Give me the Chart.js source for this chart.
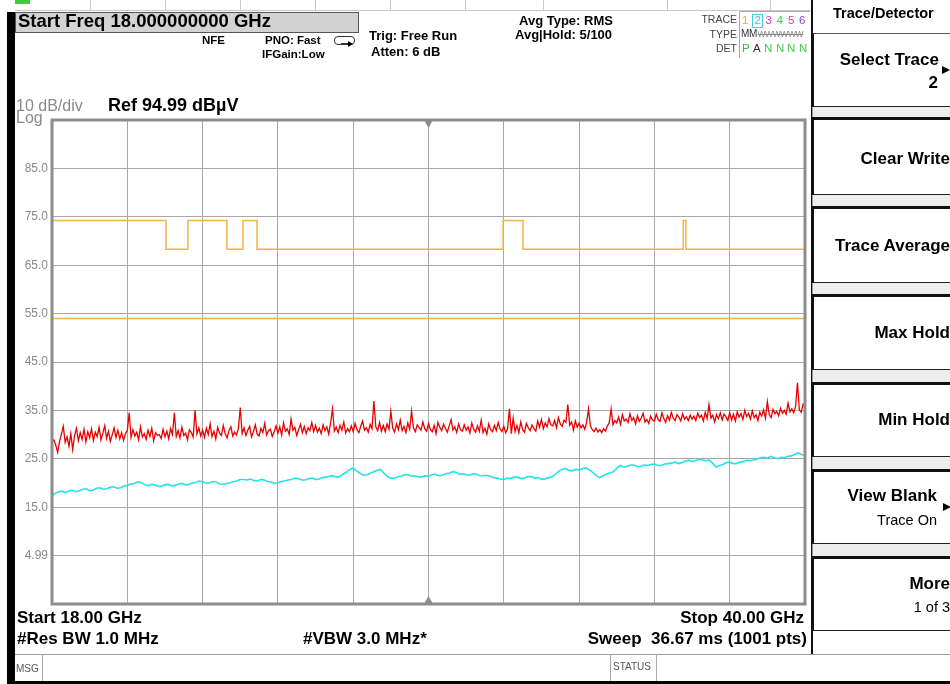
<!DOCTYPE html>
<html>
<head>
<meta charset="utf-8">
<script src="https://cdn.jsdelivr.net/npm/chart.js@4.4.1/dist/chart.umd.min.js"></script>
<style>
  html, body { margin:0; padding:0; width:950px; height:684px; overflow:hidden; background:#fff; }
  .t { position:absolute; white-space:nowrap; font-family:"Liberation Sans", Arial, sans-serif; line-height:1; color:#000; }
  .b { font-weight:bold; }
  .r { text-align:right; }
  .box { position:absolute; box-sizing:border-box; }
  .btn { position:absolute; left:812px; width:138px; box-sizing:border-box; background:#fff;
         border-top:3px solid #111; border-bottom:1.5px solid #222; border-left:2px solid #111; }
  .gap { position:absolute; left:812px; width:138px; box-sizing:border-box; background:#ededed;
         border-left:1px solid #999; border-top:1px solid #bbb; }
  .tri { position:absolute; width:0; height:0; border-left:8px solid #000; border-top:4.5px solid transparent; border-bottom:4.5px solid transparent; }
</style>
</head>
<body>
<canvas id="c" width="950" height="684" style="position:absolute;left:0;top:0;"></canvas>

<!-- frame decorations -->
<div class="box" style="left:15px;top:0;width:15px;height:4px;background:#3ccf3c;"></div>
<div class="box" style="left:15px;top:10px;width:796px;height:1px;background:#c8c8c8;"></div>
<div class="box" style="left:90px;top:0;width:1px;height:10px;background:#c8c8c8;"></div>
<div class="box" style="left:165px;top:0;width:1px;height:10px;background:#c8c8c8;"></div>
<div class="box" style="left:240px;top:0;width:1px;height:10px;background:#c8c8c8;"></div>
<div class="box" style="left:315px;top:0;width:1px;height:10px;background:#c8c8c8;"></div>
<div class="box" style="left:390px;top:0;width:1px;height:10px;background:#c8c8c8;"></div>
<div class="box" style="left:465px;top:0;width:1px;height:10px;background:#c8c8c8;"></div>
<div class="box" style="left:543px;top:0;width:1px;height:10px;background:#c8c8c8;"></div>
<div class="box" style="left:667px;top:0;width:1px;height:10px;background:#c8c8c8;"></div>
<div class="box" style="left:770px;top:0;width:1px;height:10px;background:#c8c8c8;"></div>
<div class="box" style="left:7px;top:12px;width:8px;height:672px;background:#000;"></div>
<div class="box" style="left:7px;top:681px;width:943px;height:3px;background:#000;"></div>
<div class="box" style="left:811px;top:0;width:2px;height:654px;background:#111;"></div>

<!-- header -->
<div class="box" style="left:15px;top:12px;width:344px;height:21px;background:#d3d3d3;border:1px solid #555;"></div>
<div class="t b" style="left:18px;top:11.5px;font-size:18.5px;">Start Freq 18.000000000 GHz</div>
<div class="t b" style="left:202px;top:35.4px;font-size:11.5px;">NFE</div>
<div class="t b" style="left:265px;top:35.4px;font-size:11.5px;">PNO: Fast</div>
<div class="t b" style="left:262px;top:48.6px;font-size:11.5px;">IFGain:Low</div>
<div class="box" style="left:334px;top:36px;width:21px;height:9px;border:1.5px solid #333;border-radius:4px;"></div>
<div class="box" style="left:341px;top:43px;width:8px;height:1.5px;background:#333;"></div>
<div class="tri" style="left:348px;top:40.5px;border-left-width:5px;border-top-width:3px;border-bottom-width:3px;"></div>
<div class="t b" style="left:369px;top:28.6px;font-size:13px;">Trig: Free Run</div>
<div class="t b" style="left:371px;top:44.6px;font-size:13px;">Atten: 6 dB</div>
<div class="t b" style="left:519px;top:13.6px;font-size:13px;">Avg Type: RMS</div>
<div class="t b" style="left:515px;top:28.1px;font-size:13px;">Avg|Hold: 5/100</div>

<!-- trace table -->
<div class="box" style="left:739px;top:11px;width:71px;height:1px;background:#aaa;"></div>
<div class="box" style="left:739px;top:11px;width:1px;height:47px;background:#aaa;"></div>
<div class="t r" style="right:213px;top:14.4px;font-size:10.5px;color:#444;">TRACE</div>
<div class="t r" style="right:213px;top:29.2px;font-size:10.5px;color:#444;">TYPE</div>
<div class="t r" style="right:213px;top:42.6px;font-size:10.5px;color:#444;">DET</div>
<div class="box" style="left:752px;top:14px;width:11px;height:14px;border:1px solid #40d0e0;"></div>
<div class="t" style="left:742px;top:15.1px;font-size:11.5px;color:#f0a830;">1</div>
<div class="t" style="left:754.5px;top:15.1px;font-size:11.5px;color:#30c8e0;">2</div>
<div class="t" style="left:765.5px;top:15.1px;font-size:11.5px;color:#e030d0;">3</div>
<div class="t" style="left:776.5px;top:15.1px;font-size:11.5px;color:#40cc40;">4</div>
<div class="t" style="left:788px;top:15.1px;font-size:11.5px;color:#e04090;">5</div>
<div class="t" style="left:799px;top:15.1px;font-size:11.5px;color:#9040d0;">6</div>
<div class="t" style="left:741px;top:29.2px;font-size:10px;color:#333;">M</div>
<div class="t" style="left:749px;top:29.2px;font-size:10px;color:#333;">M</div>
<div class="t" style="left:757.5px;top:30px;font-size:8.5px;color:#888;letter-spacing:-0.4px;text-decoration:line-through;">WWWWWW</div>
<div class="t" style="left:742px;top:42.8px;font-size:11.5px;color:#30c030;">P</div>
<div class="t" style="left:753px;top:42.8px;font-size:11.5px;color:#333;">A</div>
<div class="t" style="left:764px;top:42.8px;font-size:11.5px;color:#40cc40;">N</div>
<div class="t" style="left:776px;top:42.8px;font-size:11.5px;color:#40cc40;">N</div>
<div class="t" style="left:787px;top:42.8px;font-size:11.5px;color:#40cc40;">N</div>
<div class="t" style="left:799px;top:42.8px;font-size:11.5px;color:#40cc40;">N</div>

<!-- scale info -->
<div class="t" style="left:16px;top:97.7px;font-size:16px;color:#8a8a8a;">10 dB/div</div>
<div class="t" style="left:16px;top:109.7px;font-size:16px;color:#8a8a8a;">Log</div>
<div class="t b" style="left:108px;top:96.2px;font-size:18px;">Ref 94.99 dBµV</div>

<!-- bottom annotations -->
<div class="t b" style="left:17px;top:609.2px;font-size:17px;">Start 18.00 GHz</div>
<div class="t b" style="left:17px;top:629.5px;font-size:17px;">#Res BW 1.0 MHz</div>
<div class="t b" style="left:303px;top:629.5px;font-size:17px;">#VBW 3.0 MHz*</div>
<div class="t b r" style="right:146px;top:609.2px;font-size:17px;">Stop 40.00 GHz</div>
<div class="t b r" style="right:143px;top:629.5px;font-size:17px;">Sweep&nbsp; 36.67 ms (1001 pts)</div>
<div class="box" style="left:15px;top:654px;width:935px;height:1px;background:#999;"></div>
<div class="box" style="left:42px;top:654px;width:1px;height:27px;background:#aaa;"></div>
<div class="box" style="left:610px;top:654px;width:1px;height:27px;background:#aaa;"></div>
<div class="box" style="left:656px;top:654px;width:1px;height:27px;background:#aaa;"></div>
<div class="t" style="left:16px;top:664px;font-size:10px;color:#555;">MSG</div>
<div class="t" style="left:613px;top:662px;font-size:10px;color:#555;">STATUS</div>

<!-- softkeys -->
<div class="t b" style="left:833px;top:6.4px;font-size:14.5px;">Trace/Detector</div>
<div class="gap" style="top:106px;height:12px;"></div>
<div class="gap" style="top:194px;height:13px;"></div>
<div class="gap" style="top:282px;height:14px;"></div>
<div class="gap" style="top:369px;height:14px;"></div>
<div class="gap" style="top:456px;height:14px;"></div>
<div class="gap" style="top:543px;height:14px;"></div>
<div class="btn" style="top:33px;height:74px;border-top:1px solid #555;"></div>
<div class="btn" style="top:117px;height:78px;"></div>
<div class="btn" style="top:205.5px;height:77.5px;"></div>
<div class="btn" style="top:294px;height:76px;"></div>
<div class="btn" style="top:381.5px;height:75px;"></div>
<div class="btn" style="top:469px;height:74.5px;"></div>
<div class="btn" style="top:556px;height:74.5px;"></div>
<div class="t b r" style="right:11px;top:50.5px;font-size:17px;">Select Trace</div>
<div class="t b r" style="right:12px;top:73.7px;font-size:17px;">2</div>
<div class="tri" style="left:942px;top:66px;"></div>
<div class="t b r" style="right:0;top:150.4px;font-size:17px;">Clear Write</div>
<div class="t b r" style="right:0;top:236.7px;font-size:17px;">Trace Average</div>
<div class="t b r" style="right:0;top:324.2px;font-size:17px;">Max Hold</div>
<div class="t b r" style="right:0;top:411.2px;font-size:17px;">Min Hold</div>
<div class="t b r" style="right:13px;top:486.7px;font-size:17px;">View Blank</div>
<div class="tri" style="left:943px;top:503px;"></div>
<div class="t r" style="right:13px;top:512.9px;font-size:14.5px;">Trace On</div>
<div class="t b r" style="right:0;top:574.7px;font-size:17px;">More</div>
<div class="t r" style="right:0;top:599.6px;font-size:14.5px;">1 of 3</div>

<script>
// ---------------- data ----------------
const startFreq = 18.0;   // GHz
const stopFreq = 40.0;    // GHz
const centerFreq = 29.0;  // GHz

// vertical grid positions (GHz)
const xGrid = [18, 20.2, 22.4, 24.6, 26.8, 29, 31.2, 33.4, 35.6, 37.8, 40];

// horizontal grid (dBuV) and their labels
const yGrid = [94.99, 84.99, 74.99, 64.99, 54.99, 44.99, 34.99, 24.99, 14.99, 4.99, -5.01];
const yLabels = ['', '85.0', '75.0', '65.0', '55.0', '45.0', '35.0', '25.0', '15.0', '4.99', ''];

// upper stepped line: each level holds from its frequency to the next one
const stepFreqs  = [18.0, 21.33, 21.97, 23.11, 23.58, 23.99, 31.18, 31.76, 36.44, 36.52, 40.0];
const stepLevels = [74.2, 68.3, 74.2, 68.3, 74.2, 68.3, 74.2, 68.3, 74.2, 68.3, 68.3];

// lower flat line
const flatFreqs  = [18.0, 40.0];
const flatLevels = [54.0, 54.0];

// red trace (peak), evenly spread over the sweep
const redTrace = [
  28.3, 28.9, 27.8, 26.3, 28.6, 30.1, 31.7, 28.4, 29.5, 27.6, 30.2, 26.9, 29.8, 31.3, 28.7, 30.4, 29.0, 31.1, 28.5, 30.6,
  29.3, 31.2, 28.8, 30.5, 29.6, 31.5, 28.9, 30.3, 31.8, 29.2, 30.7, 28.6, 30.0, 31.4, 29.4, 30.9, 29.1, 30.4, 28.8, 30.2,
  30.8, 34.5, 29.4, 31.0, 29.7, 30.5, 28.9, 31.6, 29.5, 30.2, 29.0, 30.9, 29.6, 31.3, 28.7, 30.4, 29.8, 30.0, 29.2, 31.1,
  29.5, 30.7, 29.1, 31.2, 30.0, 34.5, 29.6, 30.8, 29.3, 31.5, 29.8, 30.3, 28.9, 31.0, 30.4, 29.5, 35.0, 30.1, 31.4, 29.7,
  30.9, 29.4, 31.3, 30.0, 32.2, 29.6, 30.7, 29.1, 31.5, 30.3, 29.8, 31.9, 30.2, 29.3, 30.8, 31.6, 29.7, 30.5, 29.9, 31.2,
  35.6, 30.2, 31.4, 29.8, 30.9, 31.7, 29.5, 30.6, 32.0, 30.1, 29.7, 31.3, 30.4, 32.3, 29.9, 30.8, 31.1, 29.6, 30.5, 31.8,
  30.3, 31.6, 29.9, 32.4, 30.7, 31.2, 30.0, 33.2, 30.9, 31.5, 29.8, 31.0, 32.1, 30.4, 31.7, 30.2, 31.4, 30.8, 32.5, 30.6,
  31.9, 30.5, 31.3, 30.2, 32.0, 30.8, 31.6, 30.1, 32.4, 35.3, 30.7, 31.5, 30.4, 31.9, 30.9, 32.6, 30.3, 31.2, 30.6, 31.8,
  30.6, 32.3, 31.0, 30.4, 31.7, 32.8, 30.9, 31.4, 30.5, 32.1, 31.2, 36.9, 31.6, 30.8, 32.5, 30.7, 31.9, 30.6, 32.2, 31.1,
  34.8, 31.3, 30.5, 32.2, 31.0, 33.0, 30.8, 31.7, 30.4, 32.4, 31.1, 34.8, 31.4, 30.6, 32.0, 31.5, 30.9, 32.6, 31.2, 30.7,
  32.3, 31.0, 30.6, 31.9, 30.2, 32.5, 31.5, 30.8, 32.1, 31.3, 30.5, 31.8, 33.1, 30.9, 31.6, 30.4, 32.2, 31.0, 30.7, 32.0,
  30.9, 31.6, 30.3, 32.4, 31.1, 30.5, 31.8, 30.7, 33.0, 30.4, 31.3, 30.1, 32.2, 31.0, 30.6, 31.9, 30.8, 32.5, 31.2, 30.6,
  31.7, 30.4, 31.2, 35.3, 30.2, 33.4, 30.6, 31.9, 30.4, 32.6, 31.0, 30.5, 32.3, 31.4, 30.8, 32.0, 31.2, 30.7, 32.8, 31.5,
  33.1, 31.2, 32.4, 31.6, 33.3, 32.0, 31.8, 32.9, 31.4, 33.5, 32.2, 31.7, 33.0, 32.5, 36.2, 31.9, 32.6, 30.9, 32.8, 31.5,
  32.3, 31.4, 32.0, 31.1, 32.5, 35.3, 31.8, 31.0, 30.6, 31.3, 30.5, 31.0, 30.4, 31.2, 30.7, 31.8, 32.4, 35.3, 32.0, 32.9,
  32.4, 33.6, 32.1, 34.1, 32.8, 33.2, 32.5, 34.3, 32.9, 33.5, 32.2, 33.9, 32.7, 33.4, 34.4, 32.6, 33.1, 32.3, 33.8, 33.0,
  32.8, 34.2, 33.1, 32.7, 34.5, 33.3, 32.5, 33.9, 33.0, 34.6, 33.4, 32.9, 34.1, 33.6, 32.8, 34.3, 33.2, 33.7, 32.9, 34.0,
  33.2, 33.8, 32.9, 34.4, 33.5, 34.0, 32.8, 34.6, 33.3, 36.2, 33.4, 34.0, 32.6, 34.1, 33.3, 34.5, 33.0, 34.2, 33.7, 32.9,
  34.5, 33.0, 34.2, 32.8, 34.7, 33.6, 34.3, 33.1, 35.0, 33.7, 34.4, 33.2, 34.9, 33.5, 34.1, 32.9, 34.6, 33.8, 35.1, 33.4,
  36.8, 34.1, 33.5, 35.2, 34.3, 34.8, 33.9, 35.4, 34.4, 35.0, 34.2, 36.5, 34.7, 35.3, 34.5, 35.8, 40.7, 35.1, 34.6, 36.3,
  35.9
];

// cyan trace (average), evenly spread over the sweep
const cyanTrace = [
  17.4, 17.9, 18.2, 18.3, 18.0, 18.4, 18.5, 18.2, 18.4, 18.7,
  18.8, 18.4, 18.5, 18.9, 19.0, 18.7, 18.8, 19.1, 19.2, 18.9,
  19.0, 19.3, 19.5, 19.8, 19.9, 20.2, 20.1, 19.7, 19.4, 19.7,
  19.6, 19.3, 19.3, 19.6, 19.7, 19.4, 19.5, 19.8, 19.9, 19.6,
  19.7, 20.0, 20.1, 20.4, 20.3, 19.9, 20.0, 20.3, 20.2, 19.8,
  19.7, 19.9, 20.0, 20.3, 20.4, 20.7, 20.7, 20.6, 20.8, 20.5,
  20.4, 20.7, 20.6, 20.3, 20.2, 19.9, 20.0, 20.3, 20.4, 20.6,
  20.7, 21.0, 20.9, 20.6, 20.6, 20.9, 21.0, 20.7, 20.8, 21.1,
  21.2, 21.4, 21.5, 21.2, 21.3, 21.8, 22.2, 22.8, 23.1, 22.5,
  22.0, 21.6, 21.7, 22.0, 22.3, 22.6, 22.8, 22.0, 21.3, 21.0,
  21.0, 21.3, 21.4, 21.7, 21.7, 21.4, 21.5, 21.3, 21.2, 21.5,
  21.4, 21.7, 21.8, 21.5, 21.6, 21.9, 22.0, 22.3, 22.2, 21.8,
  21.9, 21.7, 21.6, 21.9, 21.8, 21.5, 21.5, 21.6, 21.4, 21.1,
  21.0, 20.8, 20.7, 21.0, 20.9, 21.2, 21.2, 20.9, 21.0, 21.3,
  21.3, 21.0, 21.1, 20.8, 20.8, 21.1, 21.2, 21.8, 22.4, 22.8,
  23.0, 22.6, 22.5, 22.8, 22.7, 23.0, 23.1, 22.7, 22.2, 21.5,
  21.1, 21.5, 21.8, 22.1, 22.3, 23.0, 23.6, 23.3, 23.4, 23.7,
  23.7, 23.4, 23.4, 23.7, 23.6, 23.8, 23.9, 23.6, 23.6, 23.9,
  24.0, 24.1, 24.3, 24.0, 24.2, 24.5, 24.7, 24.4, 24.6, 24.9,
  24.8, 24.6, 24.7, 24.1, 23.3, 23.6, 23.8, 24.2, 24.3, 24.0,
  24.0, 24.3, 24.4, 24.7, 24.6, 24.8, 24.9, 25.2, 25.3, 25.1,
  25.5, 25.2, 25.0, 25.3, 25.2, 25.5, 25.6, 25.9, 26.2, 25.9,
  25.7
];

// ---------------- build chart ----------------
function sweepPoints(values) {
  const n = values.length;
  return values.map((v, i) => ({ x: startFreq + (stopFreq - startFreq) * i / (n - 1), y: v }));
}
function pairPoints(xs, ys) {
  return xs.map((x, i) => ({ x: x, y: ys[i] }));
}

const framePlugin = {
  id: 'frame',
  afterDatasetsDraw(chart) {
    const { ctx, chartArea: a, scales } = chart;
    ctx.save();
    ctx.strokeStyle = '#8c8c8c';
    ctx.lineWidth = 3;
    ctx.strokeRect(a.left, a.top, a.right - a.left, a.bottom - a.top);
    const cx = scales.x.getPixelForValue(centerFreq);
    ctx.fillStyle = '#8c8c8c';
    ctx.beginPath();
    ctx.moveTo(cx - 4.5, a.top); ctx.lineTo(cx + 4.5, a.top); ctx.lineTo(cx, a.top + 8); ctx.closePath(); ctx.fill();
    ctx.beginPath();
    ctx.moveTo(cx - 4.5, a.bottom); ctx.lineTo(cx + 4.5, a.bottom); ctx.lineTo(cx, a.bottom - 8); ctx.closePath(); ctx.fill();
    ctx.restore();
  }
};

new Chart(document.getElementById('c'), {
  type: 'line',
  data: {
    datasets: [
      { data: pairPoints(stepFreqs, stepLevels), borderColor: '#f0b440', borderWidth: 1.5, stepped: 'before', pointRadius: 0 },
      { data: pairPoints(flatFreqs, flatLevels), borderColor: '#f0b440', borderWidth: 1.5, pointRadius: 0 },
      { data: sweepPoints(redTrace), borderColor: '#e80000', borderWidth: 1.3, pointRadius: 0, tension: 0 },
      { data: sweepPoints(cyanTrace), borderColor: '#22e4e8', borderWidth: 1.6, pointRadius: 0, tension: 0 }
    ]
  },
  options: {
    responsive: false,
    animation: false,
    events: [],
    layout: { padding: { left: 12, top: 120, right: 145, bottom: 80 } },
    plugins: { legend: { display: false }, tooltip: { enabled: false } },
    scales: {
      x: {
        type: 'linear', min: startFreq, max: stopFreq,
        afterBuildTicks: s => { s.ticks = xGrid.map(v => ({ value: v })); },
        afterFit: s => { s.height = 0; },
        ticks: { display: false },
        grid: { color: '#a8a8a8', lineWidth: 1, drawTicks: false },
        border: { display: false }
      },
      y: {
        type: 'linear', min: -5.01, max: 94.99,
        afterBuildTicks: s => { s.ticks = yGrid.slice().reverse().map(v => ({ value: v })); },
        afterFit: s => { s.width = 40; },
        ticks: {
          padding: 4, color: '#8a8a8a',
          font: { family: '"Liberation Sans", Arial, sans-serif', size: 12 },
          callback: v => { const i = yGrid.indexOf(v); return i >= 0 ? yLabels[i] : ''; }
        },
        grid: { color: '#a8a8a8', lineWidth: 1, drawTicks: false },
        border: { display: false }
      }
    }
  },
  plugins: [framePlugin]
});
</script>
</body>
</html>
